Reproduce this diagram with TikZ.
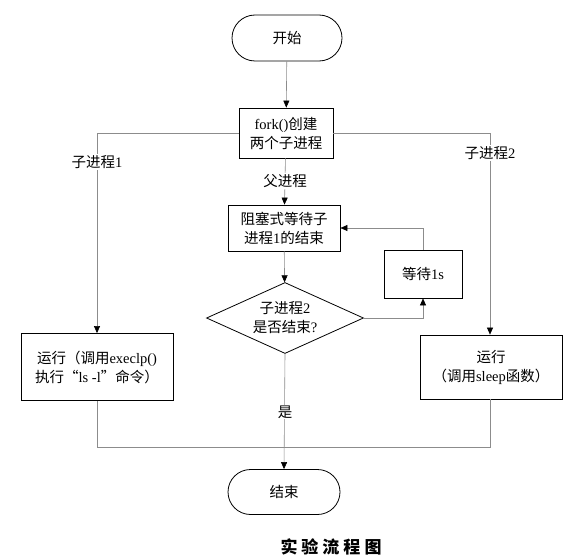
\documentclass[tikz,border=0pt]{standalone}
\usepackage{fontspec}
\setmainfont{Liberation Serif}
\newfontfamily\cjk{Noto Sans CJK SC}
\usetikzlibrary{shapes.geometric,shapes.misc,arrows.meta}
\tikzset{
  x=1pt,y=-1pt,
  every node/.style={font=\fontsize{14.5}{19}\selectfont, align=center},
  term/.style={draw=black, line width=0.8pt, rounded rectangle, minimum width=110pt, minimum height=46pt, inner sep=0pt},
  proc/.style={draw=black, line width=0.8pt, rectangle, inner sep=0pt},
  dec/.style={draw=black, line width=0.8pt, diamond, minimum width=157pt, minimum height=71pt, inner sep=0pt},
  conn/.style={draw=black!45, line width=0.6pt},
  arr/.style={conn, -{Triangle[length=7pt,width=6pt,fill=black,color=black]}},
  lbl/.style={fill=white, inner sep=1pt},
}
\begin{document}
\begin{tikzpicture}
\useasboundingbox (0,0) rectangle (578,559);
\fill[white] (0,0) rectangle (578,559);

\node[term] (start) at (287,38) {\cjk 开始};
\node[proc, minimum width=94pt, minimum height=50pt] (fork) at (286,133) {fork()\cjk 创建\\\cjk 两个子进程};
\node[proc, minimum width=112pt, minimum height=46pt] (block) at (284,228) {\cjk 阻塞式等待子\\\cjk 进程{\rmfamily 1}的结束};
\node[dec] (dec) at (285,318) {};
\node (dect) at (dec) {\cjk 子进程{\rmfamily 2}\\\cjk 是否结束{\rmfamily ?}};
\node[proc, minimum width=78pt, minimum height=48pt] (wait) at (423,274) {\cjk 等待{\rmfamily 1s}};
\node[proc, minimum width=152pt, minimum height=67pt] (left) at (97,367) {\cjk 运行（调用{\rmfamily execlp()}\\\cjk 执行“{\rmfamily ls -l}”命令）};
\node[proc, minimum width=142pt, minimum height=64pt] (right) at (491,367) {\cjk 运行\\\cjk （调用{\rmfamily sleep}函数）};
\node[term, minimum width=112pt, minimum height=45pt] (end) at (284,492) {\cjk 结束};

\coordinate (fl) at (97,133);
\coordinate (fr) at (490,133);
\coordinate (dr) at (423,318);
\coordinate (wt) at (423,228);
\coordinate (jl) at (97,447);
\coordinate (jr) at (490,447);

\draw[arr] (start) -- (fork);
\draw[arr] (fork.west) -- (fl) -- (left.north-|fl);
\draw[arr] (fork.east) -- (fr) -- (right.north-|fr);
\draw[arr] (fork) -- (block);
\draw[arr] (block) -- (dec);
\draw[arr] (dec.east) -- (dr) -- (wait.south);
\draw[arr] (wait.north) -- (wt) -- (block.east);
\draw[arr] (dec.south) -- (end.north);
\draw[conn] (left.south-|jl) -- (jl) -- (jr) -- (right.south-|jr);

\node[lbl] (l1) at (97,162) {\cjk 子进程{\rmfamily 1}};
\node[lbl] (l2) at (490,153) {\cjk 子进程{\rmfamily 2}};
\node[lbl] (l3) at (285,181) {\cjk 父进程};
\node[lbl] (l4) at (285,412) {\cjk 是};

\node (cap) at (331,547) {\fontsize{17}{19}\selectfont\cjk\bfseries 实\hspace{4pt}验\hspace{4pt}流\hspace{4pt}程\hspace{4pt}图};
\end{tikzpicture}
\end{document}
